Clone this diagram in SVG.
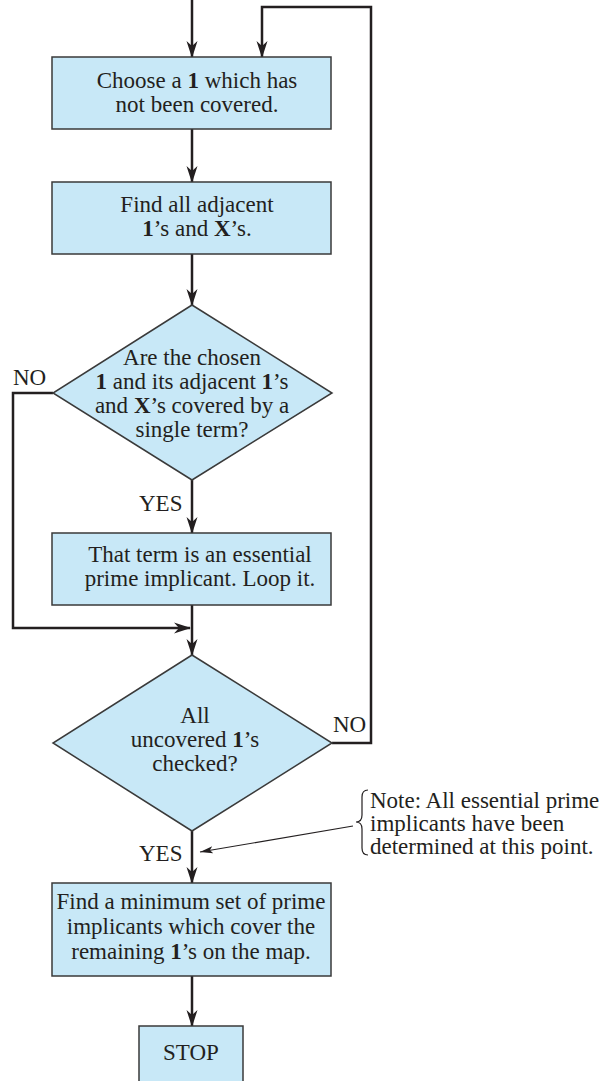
<svg xmlns="http://www.w3.org/2000/svg" width="603" height="1081" viewBox="0 0 603 1081">
<style>
.box{fill:#c8e8f7;stroke:#3a3a3a;stroke-width:1.5}
.t{font-family:"Liberation Serif","Times New Roman",serif;font-size:23px;fill:#231f20}
.c{text-anchor:middle}
.b{font-weight:bold}
.con{fill:none;stroke:#231f20;stroke-width:2.5}
.thin{fill:none;stroke:#231f20;stroke-width:1.2}
</style>
<defs>
<marker id="ah" markerUnits="userSpaceOnUse" markerWidth="18" markerHeight="12" refX="16" refY="6" orient="auto">
<path d="M0,0.5 L17,6 L0,11.5 L5,6 z" fill="#231f20"/>
</marker>
<marker id="ahs" markerUnits="userSpaceOnUse" markerWidth="14" markerHeight="8" refX="13" refY="4" orient="auto">
<path d="M0,0.5 L13,4 L0,7.5 L3,4 z" fill="#231f20"/>
</marker>
</defs>
<g id="connectors">
<path class="con" d="M192,0 V57" marker-end="url(#ah)"/>
<path class="con" d="M192,129 V182" marker-end="url(#ah)"/>
<path class="con" d="M192,254 V305" marker-end="url(#ah)"/>
<path class="con" d="M192,480 V533" marker-end="url(#ah)"/>
<path class="con" d="M53,393 H13 V628 H190" marker-end="url(#ah)"/>
<path class="con" d="M192,605 V655" marker-end="url(#ah)"/>
<path class="con" d="M332,743 H371 V7 H262 V57" marker-end="url(#ah)"/>
<path class="con" d="M192,831 V883" marker-end="url(#ah)"/>
<path class="con" d="M192,976 V1026" marker-end="url(#ah)"/>
<path class="thin" d="M353,826 L200,852" marker-end="url(#ahs)"/>
</g>
<g id="n1">
<rect class="box" x="52" y="57" width="279" height="72"/>
<text class="t c" x="197" y="88">Choose a <tspan class="b">1</tspan> which has</text>
<text class="t c" x="197" y="112">not been covered.</text>
</g>
<g id="n2">
<rect class="box" x="52" y="182" width="279" height="72"/>
<text class="t c" x="197" y="212">Find all adjacent</text>
<text class="t c" x="197" y="236"><tspan class="b">1</tspan>’s and <tspan class="b">X</tspan>’s.</text>
</g>
<g id="d1">
<polygon class="box" points="192,305 332,393 192,480 53,393"/>
<text class="t c" x="192" y="365">Are the chosen</text>
<text class="t c" x="192" y="389"><tspan class="b">1</tspan> and its adjacent <tspan class="b">1</tspan>’s</text>
<text class="t c" x="192" y="413">and <tspan class="b">X</tspan>’s covered by a</text>
<text class="t c" x="192" y="437">single term?</text>
<text class="t" x="13" y="385">NO</text>
<text class="t" x="139" y="511">YES</text>
</g>
<g id="n3">
<rect class="box" x="52" y="533" width="279" height="72"/>
<text class="t c" x="200" y="562">That term is an essential</text>
<text class="t c" x="200" y="586">prime implicant. Loop it.</text>
</g>
<g id="d2">
<polygon class="box" points="192,655 332,743 192,831 53,743"/>
<text class="t c" x="195" y="723">All</text>
<text class="t c" x="195" y="747">uncovered <tspan class="b">1</tspan>’s</text>
<text class="t c" x="195" y="771">checked?</text>
<text class="t" x="333" y="732">NO</text>
<text class="t" x="139" y="861">YES</text>
</g>
<g id="note">
<path class="thin" d="M368,790 Q362,790 362,797 L362,815 Q362,822 356,822 Q362,822 362,829 L362,848 Q362,855 368,855"/>
<text class="t" x="370" y="808">Note: All essential prime</text>
<text class="t" x="370" y="831">implicants have been</text>
<text class="t" x="370" y="854">determined at this point.</text>
</g>
<g id="n4">
<rect class="box" x="52" y="883" width="279" height="93"/>
<text class="t c" x="191" y="909">Find a minimum set of prime</text>
<text class="t c" x="191" y="934">implicants which cover the</text>
<text class="t c" x="191" y="959">remaining <tspan class="b">1</tspan>’s on the map.</text>
</g>
<g id="stop">
<rect class="box" x="139" y="1026" width="104" height="70"/>
<text class="t c" x="191" y="1060">STOP</text>
</g>
</svg>
